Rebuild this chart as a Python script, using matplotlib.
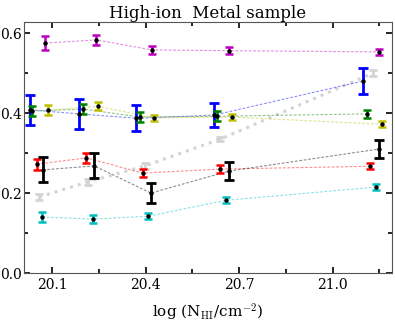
import matplotlib
matplotlib.use("Agg")
import matplotlib.pyplot as plt
from matplotlib.ticker import MultipleLocator

plt.rcParams["font.family"] = "DejaVu Serif"
plt.rcParams["mathtext.fontset"] = "cm"

# log N_HI bin positions (slightly offset per series), fractions and 1-sigma errors
mag_x = [20.078, 20.241, 20.420, 20.667, 21.148]
mag_y = [0.575, 0.583, 0.558, 0.556, 0.553]
mag_e = [0.017, 0.012, 0.010, 0.008, 0.008]

blue_x = [20.030, 20.187, 20.370, 20.620, 21.097]
blue_y = [0.408, 0.398, 0.387, 0.395, 0.480]
blue_e = [0.038, 0.037, 0.032, 0.030, 0.033]

green_x = [20.036, 20.200, 20.382, 20.630, 21.110]
green_y = [0.405, 0.410, 0.390, 0.392, 0.398]
green_e = [0.012, 0.012, 0.012, 0.012, 0.010]

yel_x = [20.087, 20.247, 20.427, 20.677, 21.160]
yel_y = [0.407, 0.417, 0.388, 0.390, 0.372]
yel_e = [0.012, 0.010, 0.008, 0.008, 0.008]

grey_x = [20.058, 20.215, 20.398, 20.640, 21.130]
grey_y = [0.190, 0.228, 0.268, 0.335, 0.500]
grey_e = [0.008, 0.007, 0.007, 0.006, 0.007]

red_x = [20.050, 20.210, 20.390, 20.640, 21.120]
red_y = [0.272, 0.288, 0.250, 0.260, 0.267]
red_e = [0.014, 0.012, 0.011, 0.009, 0.008]

blk_x = [20.070, 20.235, 20.417, 20.667, 21.148]
blk_y = [0.258, 0.268, 0.200, 0.255, 0.310]
blk_e = [0.031, 0.031, 0.025, 0.023, 0.022]

cyan_x = [20.068, 20.230, 20.408, 20.658, 21.140]
cyan_y = [0.140, 0.135, 0.142, 0.182, 0.215]
cyan_e = [0.012, 0.009, 0.008, 0.007, 0.008]

series = [
    (mag_x, mag_y, mag_e, "m"),
    (blue_x, blue_y, blue_e, "b"),
    (green_x, green_y, green_e, "g"),
    (yel_x, yel_y, yel_e, "y"),
    (red_x, red_y, red_e, "r"),
    (blk_x, blk_y, blk_e, "k"),
    (cyan_x, cyan_y, cyan_e, "c"),
]

fig = plt.figure(figsize=(3.95, 3.22), dpi=100)
ax = fig.add_axes([0.061, 0.152, 0.931, 0.780])

# grey series: thick dotted light line, no central dot
ax.plot(grey_x, grey_y, ls=":", lw=2.2, color="#d4d4d4", zorder=1)
ax.errorbar(grey_x, grey_y, yerr=grey_e, fmt="none", ecolor="#d4d4d4",
            elinewidth=2.0, capsize=3, capthick=2.0, zorder=2)

for x, y, e, c in series:
    ax.plot(x, y, ls="--", dashes=(2.5, 1.5), lw=0.8, color=c, alpha=0.45, zorder=1)
    lw = 2.0 if c in ("b", "k") else 1.8
    cs = 3.5 if c in ("b", "k") else 3
    ax.errorbar(x, y, yerr=e, fmt="none", ecolor=c, elinewidth=lw,
                capsize=cs, capthick=lw, zorder=3)
    ax.plot(x, y, "o", ms=2.2, color="k", zorder=4)

ax.set_xlim(20.01, 21.19)
ax.set_ylim(0.0, 0.628)
ax.xaxis.set_major_locator(MultipleLocator(0.3))
ax.xaxis.set_minor_locator(MultipleLocator(0.15))
ax.yaxis.set_major_locator(MultipleLocator(0.2))
ax.yaxis.set_minor_locator(MultipleLocator(0.1))
ax.xaxis.set_major_formatter(plt.FormatStrFormatter("%.1f"))
ax.yaxis.set_major_formatter(plt.FormatStrFormatter("%.1f"))
ax.tick_params(which="both", direction="in", top=True, right=True, labelsize=10)
ax.tick_params(which="major", length=4, width=1.2)
ax.tick_params(which="minor", length=3, width=1.2)
ax.tick_params(axis="y", pad=1.5)
for s in ax.spines.values():
    s.set_color("#555555")

ax.set_title("High-ion  Metal sample", fontsize=12, pad=3)
ax.set_xlabel(r"log (N$_{\rm HI}$/cm$^{-2}$)", fontsize=11, labelpad=7)

fig.savefig("out.png", dpi=100)
